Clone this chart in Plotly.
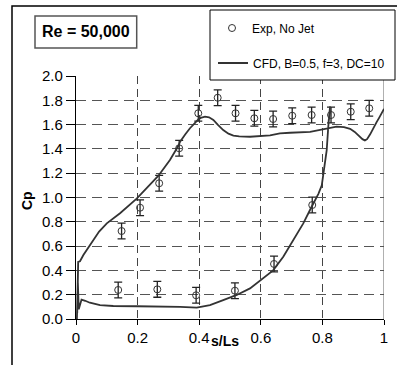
import plotly.graph_objects as go

# Experimental data (No Jet)
exp_s = [0.137, 0.264, 0.39, 0.516, 0.643, 0.767,
         0.148, 0.208, 0.27, 0.335, 0.397, 0.46, 0.518, 0.579, 0.64, 0.702, 0.765, 0.828, 0.892, 0.952]
exp_cp = [0.239, 0.244, 0.195, 0.233, 0.453, 0.938,
          0.724, 0.916, 1.117, 1.405, 1.693, 1.821, 1.693, 1.652, 1.646, 1.673, 1.679, 1.679, 1.706, 1.734]
exp_err = [0.065] * len(exp_s)

# CFD curve (B=0.5, f=3, DC=10)
cfd_s = [1.0, 0.99, 0.995, 0.985, 0.993, 0.985, 0.976, 0.965, 0.955, 0.945, 0.938, 0.93, 0.922, 0.905, 0.89,
         0.87, 0.846, 0.82, 0.803, 0.76, 0.695, 0.662, 0.63, 0.565, 0.53, 0.511, 0.495, 0.478, 0.46,
         0.446, 0.432, 0.419, 0.405, 0.397, 0.385, 0.37, 0.355, 0.338, 0.332, 0.305, 0.267, 0.224,
         0.197, 0.143, 0.1, 0.075, 0.056, 0.04, 0.024, 0.013, 0.007,
         0.004, 0.007, 0.003, 0.006, 0.009, 0.018, 0.03, 0.045, 0.078, 0.121, 0.197, 0.305,
         0.338, 0.392, 0.435, 0.478, 0.522, 0.565, 0.608, 0.64, 0.673, 0.706, 0.738, 0.765,
         0.787, 0.798, 0.803, 0.814, 0.819, 0.823, 0.825, 0.82, 0.826, 0.821]
cfd_cp = [1.73, 1.69, 1.71, 1.66, 1.70, 1.66, 1.62, 1.56, 1.52, 1.48, 1.47, 1.48, 1.50, 1.54, 1.565,
          1.58, 1.583, 1.57, 1.56, 1.54, 1.533, 1.528, 1.512, 1.50, 1.503, 1.509, 1.525, 1.555, 1.60,
          1.638, 1.66, 1.665, 1.655, 1.642, 1.61, 1.57, 1.52, 1.46, 1.424, 1.309, 1.177, 1.06,
          0.99, 0.87, 0.787, 0.72, 0.65, 0.59, 0.527, 0.475, 0.47,
          0.05, 0.46, 0.0, 0.3, 0.08, 0.16, 0.15, 0.134, 0.115, 0.107, 0.105, 0.103,
          0.1, 0.093, 0.115, 0.156, 0.198, 0.252, 0.335, 0.40, 0.513, 0.65, 0.787, 0.924,
          1.03, 1.10, 1.2, 1.39, 1.58, 1.70, 1.75, 1.62, 1.72, 1.65]

x_ticks = [0, 0.2, 0.4, 0.6, 0.8, 1]
x_ticktext = ["0", "0.2", "0.4", "0.6", "0.8", "1"]
y_ticks = [0.0, 0.2, 0.4, 0.6, 0.8, 1.0, 1.2, 1.4, 1.6, 1.8, 2.0]

FONT = "Liberation Sans, Arial, sans-serif"

fig = go.Figure()
fig.add_trace(go.Scatter(
    x=exp_s, y=exp_cp, mode="markers", name="Exp, No Jet",
    marker=dict(symbol="circle-open", size=7, color="#333", line=dict(width=1, color="#333")),
    error_y=dict(type="data", array=exp_err, color="#222", thickness=1.3, width=4),
    legend="legend", showlegend=True,
))
fig.add_trace(go.Scatter(
    x=cfd_s, y=cfd_cp, mode="lines", name="CFD, B=0.5, f=3, DC=10",
    line=dict(color="#333", width=1.8),
    legend="legend2", showlegend=True,
))

L, R, T, B = 76, 13, 76, 46
W, H = 397, 365
pw, ph = W - L - R, H - T - B

def px(xp):
    return (xp - L) / pw

def py(yp):
    return (H - B - yp) / ph

shapes = [
    # outer frame
    dict(type="rect", xref="paper", yref="paper", x0=px(12), x1=px(420), y0=py(390), y1=py(6),
         line=dict(color="black", width=1.5), layer="below"),
    # right gray border
    dict(type="line", xref="x", yref="paper", x0=1, x1=1, y0=0, y1=1,
         line=dict(color="#b0b0b0", width=2), layer="below"),
    # Re box
    dict(type="rect", xref="paper", yref="paper", x0=px(35), x1=px(136.7), y0=py(48), y1=py(16),
         line=dict(color="#555", width=1.5)),
    # legend box
    dict(type="rect", xref="paper", yref="paper", x0=px(210), x1=px(395), y0=py(80), y1=py(10),
         line=dict(color="black", width=1), fillcolor="white", layer="above"),
]

annotations = [
    dict(text="<b>Re = 50,000</b>", xref="paper", yref="paper", x=px(86), y=py(32),
         xanchor="center", yanchor="middle",
         showarrow=False, font=dict(family=FONT, size=16, color="black")),
    dict(text="<b>Cp</b>", xref="paper", yref="paper", x=px(27), y=py(201), textangle=-90,
         xanchor="center", yanchor="middle",
         showarrow=False, font=dict(family=FONT, size=14, color="black")),
    dict(text="<b>s/Ls</b>", xref="paper", yref="paper", x=px(225), y=py(341),
         xanchor="center", yanchor="middle",
         showarrow=False, font=dict(family=FONT, size=14, color="black")),
]

fig.update_layout(
    width=W, height=H,
    margin=dict(l=L, r=R, t=T, b=B, autoexpand=False),
    paper_bgcolor="white", plot_bgcolor="white",
    font=dict(family=FONT, size=14, color="black"),
    showlegend=True,
    shapes=shapes, annotations=annotations,
    legend=dict(x=px(212), y=py(28), xanchor="left", yanchor="middle", visible=True,
                bgcolor="rgba(0,0,0,0)", borderwidth=0,
                font=dict(family=FONT, size=12, color="black")),
    legend2=dict(x=px(213), y=py(63), xanchor="left", yanchor="middle", visible=True,
                 bgcolor="rgba(0,0,0,0)", borderwidth=0,
                 font=dict(family=FONT, size=12, color="black")),
    xaxis=dict(range=[0, 1], tickvals=x_ticks, ticktext=x_ticktext,
               showgrid=True, gridcolor="#444", griddash="8px,5px", gridwidth=1,
               showline=True, linecolor="black", linewidth=1.3,
               ticks="outside", ticklen=5, tickcolor="black", zeroline=False,
               tickfont=dict(family=FONT, size=15), automargin=False),
    yaxis=dict(range=[0, 2], tickvals=y_ticks, tickformat=".1f",
               showgrid=True, gridcolor="#555", griddash="10px,6px", gridwidth=1,
               showline=True, linecolor="black", linewidth=1.3,
               ticks="outside", ticklen=9, tickcolor="black", zeroline=False,
               tickfont=dict(family=FONT, size=15), automargin=False),
)

fig.write_html("out.html", config={"displayModeBar": False},
               post_script="document.body.style.margin='0';document.body.style.padding='0';")
